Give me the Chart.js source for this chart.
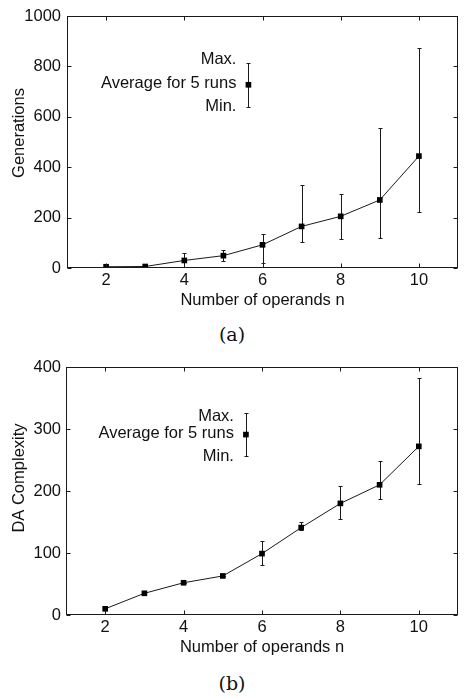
<!DOCTYPE html>
<html>
<head>
<meta charset="utf-8">
<script src="https://cdn.jsdelivr.net/npm/chart.js@4.4.1/dist/chart.umd.min.js"></script>
<style>
  body {
    margin: 0;
    background: #ffffff;
    width: 464px;
    height: 696px;
    position: relative;
    overflow: hidden;
  }
  canvas {
    position: absolute;
    left: 0;
  }
  #graficoA { top: 0; }
  #graficoB { top: 340px; }
  .rotulo {
    position: absolute;
    left: 0;
    width: 464px;
    text-align: center;
    font-family: "DejaVu Serif", "Liberation Serif", serif;
    font-size: 19px;
    line-height: 20px;
    color: #111111;
  }
  #rotuloA { top: 324px; }
  #rotuloB { top: 673px; }
</style>
</head>
<body>
<canvas id="graficoA" width="464" height="312"></canvas>
<div class="rotulo" id="rotuloA">(a)</div>
<canvas id="graficoB" width="464" height="319"></canvas>
<div class="rotulo" id="rotuloB">(b)</div>

<script>
// ---------- DADOS ----------

var operandos = [2, 3, 4, 5, 6, 7, 8, 9, 10];
var ticksX = [2, 4, 6, 8, 10];

var geracoesMedia = [5, 6, 30, 49, 92, 165, 205, 270, 444];
var geracoesMin = [2, 3, 5, 28, 21, 102, 116, 120, 221];
var geracoesMax = [12, 9, 60, 71, 136, 328, 292, 554, 872];
var ticksGeracoes = [0, 200, 400, 600, 800, 1000];

var complexMedia = [10, 35, 52, 63, 99, 141, 180, 210, 272];
var complexMin = [10, 35, 52, 63, 80, 137, 155, 187, 211];
var complexMax = [10, 35, 52, 63, 120, 150, 208, 248, 383];
var ticksComplex = [0, 100, 200, 300, 400];

// chave (legenda) desenhada dentro do grafico: x, media, min, max
var chaveGeracoes = [5.64, 727, 640, 814];
var chaveComplex = [5.59, 291, 256, 326];
var textosChave = ["Max.", "Average for 5 runs", "Min."];

var FONTE = "Liberation Sans, Arial, sans-serif";
var TAM_FONTE = 16.5;
var COR_TEXTO = "#111111";
var COR_LINHA = "#1a1a1a";

// ---------- PLUGIN: moldura, ticks internos, barras de erro ----------

function desenharBarra(ctx, x, yTopo, yBase) {
  var xr = Math.round(x) + 0.5;
  var yt = Math.round(yTopo) + 0.5;
  var yb = Math.round(yBase) + 0.5;
  ctx.beginPath();
  ctx.moveTo(xr, yt);
  ctx.lineTo(xr, yb);
  ctx.moveTo(xr - 2, yt);
  ctx.lineTo(xr + 2, yt);
  ctx.moveTo(xr - 2, yb);
  ctx.lineTo(xr + 2, yb);
  ctx.stroke();
}

var pluginGnuplot = {
  id: "gnuplot",
  beforeDatasetsDraw: function (chart) {
    var ctx = chart.ctx;
    var escalaY = chart.scales.y;
    ctx.save();
    ctx.strokeStyle = COR_LINHA;
    ctx.lineWidth = 1;
    chart.data.datasets.forEach(function (ds, i) {
      var meta = chart.getDatasetMeta(i);
      for (var j = 0; j < meta.data.length; j++) {
        var ponto = meta.data[j];
        var yTopo = escalaY.getPixelForValue(ds.errMax[j]);
        var yBase = escalaY.getPixelForValue(ds.errMin[j]);
        desenharBarra(ctx, ponto.x, yTopo, yBase);
      }
    });
    ctx.restore();
  },
  afterDraw: function (chart, args, opts) {
    var ctx = chart.ctx;
    var area = chart.chartArea;
    var escalaX = chart.scales.x;
    var escalaY = chart.scales.y;
    var esq = Math.round(area.left) + 0.5;
    var dir = Math.round(area.right) - 0.5;
    var topo = Math.round(area.top) + 0.5;
    var base = Math.round(area.bottom) - 0.5;

    ctx.save();
    ctx.strokeStyle = COR_LINHA;
    ctx.lineWidth = 1;
    ctx.strokeRect(esq, topo, dir - esq, base - topo);

    ctx.beginPath();
    ticksX.forEach(function (v) {
      var px = Math.round(escalaX.getPixelForValue(v)) + 0.5;
      ctx.moveTo(px, base);
      ctx.lineTo(px, base - 4);
      ctx.moveTo(px, topo);
      ctx.lineTo(px, topo + 4);
    });
    opts.ticksY.forEach(function (v) {
      var py = Math.round(escalaY.getPixelForValue(v)) + 0.5;
      ctx.moveTo(esq, py);
      ctx.lineTo(esq + 4, py);
      ctx.moveTo(dir, py);
      ctx.lineTo(dir - 4, py);
    });
    ctx.stroke();

    // textos da chave, alinhados ao ponto da legenda
    var metaChave = chart.getDatasetMeta(1);
    var pc = metaChave.data[0];
    ctx.fillStyle = COR_TEXTO;
    ctx.font = TAM_FONTE + "px " + FONTE;
    ctx.textAlign = "right";
    ctx.textBaseline = "middle";
    for (var i = 0; i < textosChave.length; i++) {
      ctx.fillText(textosChave[i], pc.x - 12, pc.y + opts.deslocChave[i]);
    }

    // titulo do eixo y
    ctx.translate(19, opts.centroTituloY);
    ctx.rotate(-Math.PI / 2);
    ctx.textAlign = "center";
    ctx.fillText(opts.tituloY, 0, 0);
    ctx.restore();
  },
};

// ---------- GRAFICOS ----------

function criarGrafico(idCanvas, config) {
  var ctx = document.getElementById(idCanvas).getContext("2d");

  return new Chart(ctx, {
    type: "line",
    data: {
      datasets: [
        {
          data: operandos.map(function (n, i) {
            return { x: n, y: config.media[i] };
          }),
          errMin: config.min,
          errMax: config.max,
          borderColor: COR_LINHA,
          borderWidth: 1,
          pointStyle: "rect",
          pointRadius: 4,
          pointBackgroundColor: "#000000",
          pointBorderWidth: 0,
          tension: 0,
        },
        {
          data: [{ x: config.chave[0], y: config.chave[1] }],
          errMin: [config.chave[2]],
          errMax: [config.chave[3]],
          showLine: false,
          pointStyle: "rect",
          pointRadius: 4,
          pointBackgroundColor: "#000000",
          pointBorderWidth: 0,
        },
      ],
    },
    options: {
      responsive: false,
      animation: false,
      events: [],
      layout: {
        padding: { left: 0, right: 6, top: config.paddingTopo, bottom: 0 },
      },
      scales: {
        x: {
          type: "linear",
          min: 1,
          max: 11,
          afterBuildTicks: function (escala) {
            escala.ticks = ticksX.map(function (v) {
              return { value: v };
            });
          },
          afterFit: function (escala) {
            escala.height = 44;
          },
          grid: { display: false, drawTicks: false },
          border: { display: false },
          ticks: {
            padding: 3,
            color: COR_TEXTO,
            font: { family: FONTE, size: TAM_FONTE },
            callback: function (valor) {
              return String(valor);
            },
          },
          title: {
            display: true,
            text: "Number of operands n",
            color: COR_TEXTO,
            font: { family: FONTE, size: TAM_FONTE },
            padding: { top: 0, bottom: 2 },
          },
        },
        y: {
          type: "linear",
          min: 0,
          max: config.ticksY[config.ticksY.length - 1],
          afterBuildTicks: function (escala) {
            escala.ticks = config.ticksY.map(function (v) {
              return { value: v };
            });
          },
          afterFit: function (escala) {
            escala.width = config.larguraY;
          },
          grid: { display: false, drawTicks: false },
          border: { display: false },
          ticks: {
            padding: config.paddingTickY,
            color: COR_TEXTO,
            font: { family: FONTE, size: TAM_FONTE },
            callback: function (valor) {
              return String(valor);
            },
          },
        },
      },
      plugins: {
        legend: { display: false },
        tooltip: { enabled: false },
        gnuplot: {
          ticksY: config.ticksY,
          tituloY: config.tituloY,
          centroTituloY: config.centroTituloY,
          deslocChave: config.deslocChave,
        },
      },
    },
    plugins: [pluginGnuplot],
  });
}

criarGrafico("graficoA", {
  media: geracoesMedia,
  min: geracoesMin,
  max: geracoesMax,
  chave: chaveGeracoes,
  ticksY: ticksGeracoes,
  tituloY: "Generations",
  centroTituloY: 133,
  paddingTopo: 16,
  larguraY: 67,
  paddingTickY: 6,
  deslocChave: [-25, -1.5, 21.5],
});

criarGrafico("graficoB", {
  media: complexMedia,
  min: complexMin,
  max: complexMax,
  chave: chaveComplex,
  ticksY: ticksComplex,
  tituloY: "DA Complexity",
  centroTituloY: 138,
  paddingTopo: 27,
  larguraY: 66,
  paddingTickY: 5,
  deslocChave: [-18, -1, 22],
});
</script>
</body>
</html>
